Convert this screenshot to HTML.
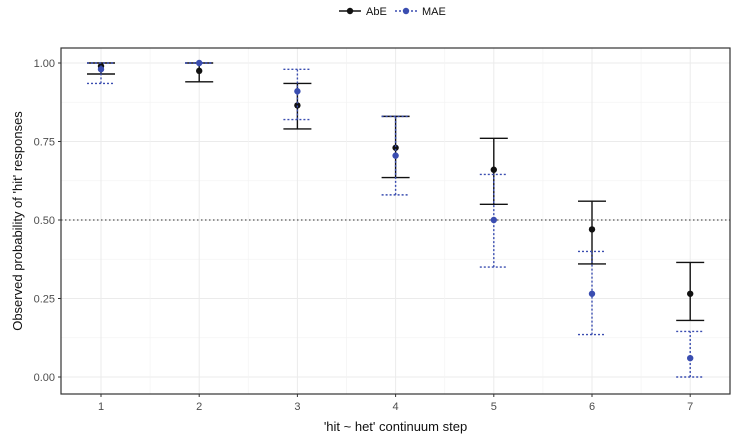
<!DOCTYPE html>
<html><head><meta charset="utf-8"><style>
body{margin:0;background:#fff;font-family:"Liberation Sans",sans-serif}
</style></head><body>
<svg id="c" width="742" height="443" xmlns="http://www.w3.org/2000/svg"></svg>
<script>
const steps=[1,2,3,4,5,6,7];
const abeMean=[0.99,0.975,0.865,0.73,0.66,0.47,0.265];
const abeLo=[0.965,0.94,0.79,0.635,0.55,0.36,0.18];
const abeHi=[1.0,1.0,0.935,0.83,0.76,0.56,0.365];
const maeMean=[0.98,1.0,0.91,0.705,0.50,0.265,0.06];
const maeLo=[0.935,1.0,0.82,0.58,0.35,0.135,0.0];
const maeHi=[1.0,1.0,0.98,0.83,0.645,0.40,0.145];
const yTicks=[0,0.25,0.5,0.75,1.0];
const yLabels=["0.00","0.25","0.50","0.75","1.00"];

const L=61,R=730,T=48,B=394;
const X=v=>101+(v-1)*98.2;
const Y=v=>377-v*314;
const svg=document.getElementById('c');
const NS="http://www.w3.org/2000/svg";
function mk(t,a,p){const e=document.createElementNS(NS,t);for(const k in a)e.setAttribute(k,a[k]);(p||svg).appendChild(e);return e;}

// grid
for(let i=0;i<yTicks.length;i++){
  const g=mk('line',{x1:L,x2:R,y1:Y(yTicks[i]),y2:Y(yTicks[i]),stroke:'#ebebeb','stroke-width':1});
  
  
  if(i<yTicks.length-1){
    const m=mk('line',{x1:L,x2:R,y1:Y((yTicks[i]+yTicks[i+1])/2),y2:Y((yTicks[i]+yTicks[i+1])/2),stroke:'#f3f3f3','stroke-width':0.7});
    
    
  }
  const t=mk('text',{x:L-6,y:Y(yTicks[i])+4,'text-anchor':'end','font-size':11,fill:'#4d4d4d'});
  t.textContent=yLabels[i];
  
  
  mk('line',{x1:L-3,x2:L,y1:Y(yTicks[i]),y2:Y(yTicks[i]),stroke:'#333'});
}
for(let i=0;i<steps.length;i++){
  const g=mk('line',{x1:X(steps[i]),x2:X(steps[i]),y1:T,y2:B,stroke:'#ebebeb'});
  
  
  if(i<steps.length-1){
    const m=mk('line',{x1:X(steps[i]+0.5),x2:X(steps[i]+0.5),y1:T,y2:B,stroke:'#f3f3f3','stroke-width':0.7});
    
    
  }
  mk('line',{x1:X(steps[i]),x2:X(steps[i]),y1:B,y2:B+3,stroke:'#333'});
  const t=mk('text',{x:X(steps[i]),y:B+16,'text-anchor':'middle','font-size':11,fill:'#4d4d4d'});
  t.textContent=steps[i];
  
  
}
const ref=mk('line',{x1:L,x2:R,y1:Y(0.5),y2:Y(0.5),stroke:'#555','stroke-dasharray':'1.5,2.5','stroke-width':1.2});



function series(mean,lo,hi,color,dash,name){
  for(let i=0;i<steps.length;i++){
    const x=X(steps[i]);
    const g=mk('g',{stroke:color,'stroke-width':1.4,'stroke-dasharray':dash});
    
    
    mk('line',{x1:x,x2:x,y1:Y(lo[i]),y2:Y(hi[i])},g);
    mk('line',{x1:x-14,x2:x+14,y1:Y(lo[i]),y2:Y(lo[i])},g);
    mk('line',{x1:x-14,x2:x+14,y1:Y(hi[i]),y2:Y(hi[i])},g);
    const p=mk('circle',{cx:x,cy:Y(mean[i]),r:3.2,fill:color});
    
    
  }
}
series(abeMean,abeLo,abeHi,'#111','', 'abe');
series(maeMean,maeLo,maeHi,'#3a4db0','2,2','mae');

const fr=mk('rect',{x:L,y:T,width:R-L,height:B-T,fill:'none',stroke:'#333','stroke-width':1.2});



const xt=mk('text',{x:(L+R)/2,y:431,'text-anchor':'middle','font-size':13,fill:'#111'});
xt.textContent="'hit ~ het' continuum step";


const yt=mk('text',{x:0,y:0,'text-anchor':'middle','font-size':13,fill:'#111',transform:`translate(22,${(T+B)/2}) rotate(-90)`});
yt.textContent="Observed probability of 'hit' responses";



// legend
const lg=mk('g',{});


const e1=mk('g',{},lg);


mk('line',{x1:339,x2:361,y1:11,y2:11,stroke:'#111','stroke-width':1.4},e1);
mk('circle',{cx:350,cy:11,r:3.2,fill:'#111'},e1);
const t1=mk('text',{x:366,y:15,'font-size':11,fill:'#111'},e1);t1.textContent='AbE';
const e2=mk('g',{},lg);


mk('line',{x1:395,x2:417,y1:11,y2:11,stroke:'#3a4db0','stroke-width':1.4,'stroke-dasharray':'2,2'},e2);
mk('circle',{cx:406,cy:11,r:3.2,fill:'#3a4db0'},e2);
const t2=mk('text',{x:422,y:15,'font-size':11,fill:'#111'},e2);t2.textContent='MAE';
</script>
</body></html>
